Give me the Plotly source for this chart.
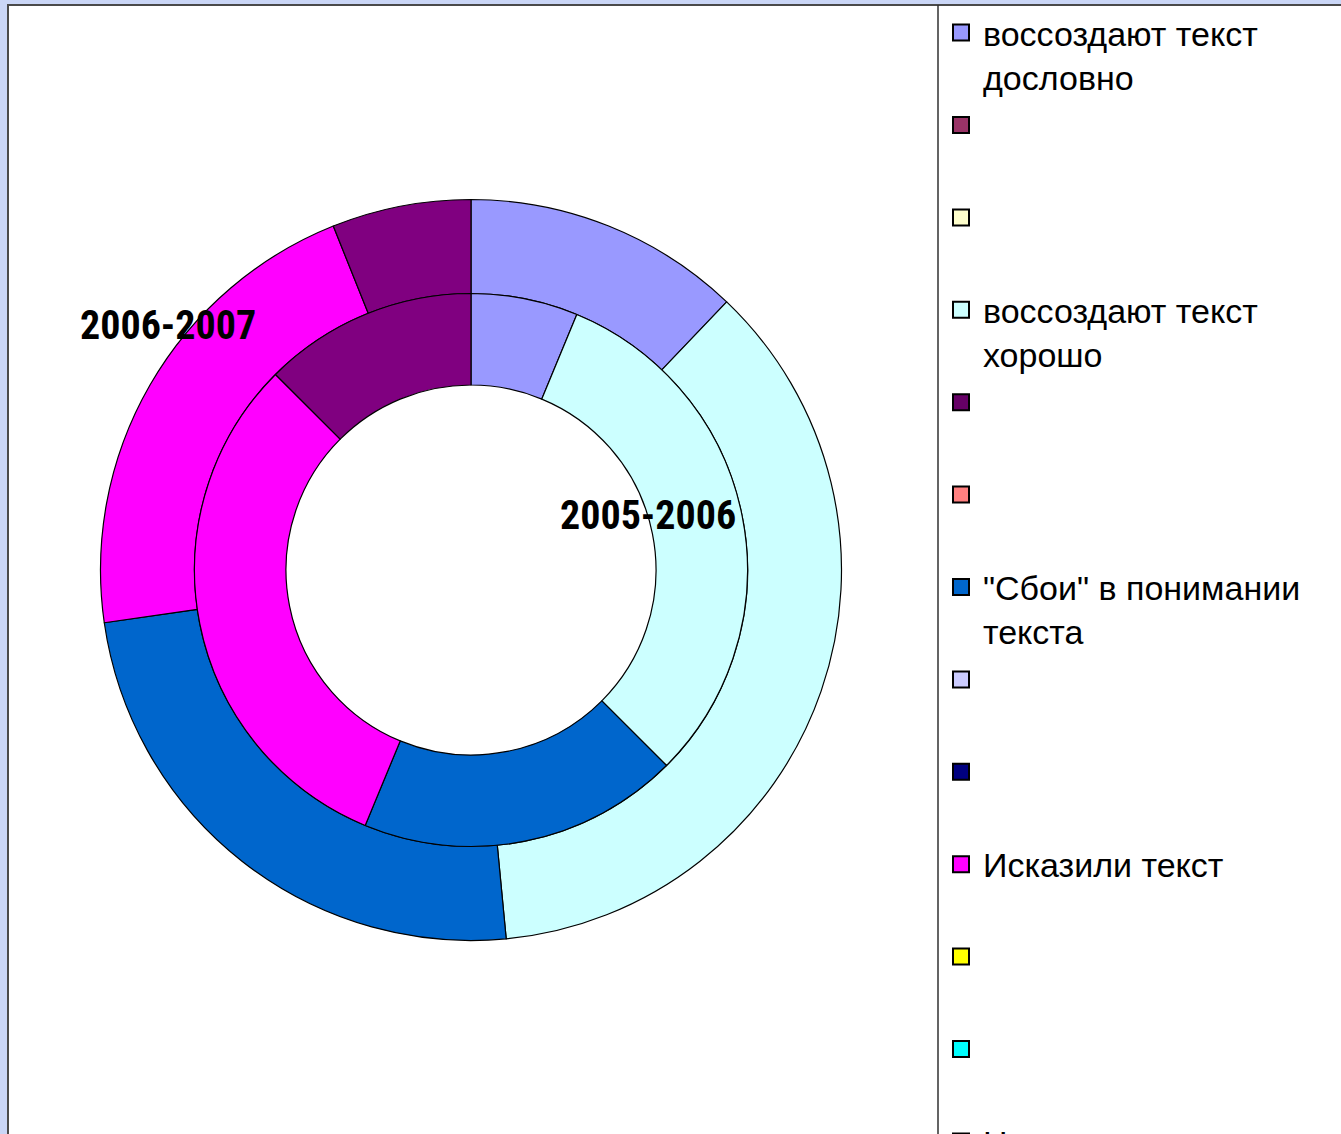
import plotly.graph_objects as go

# ---- data ----
categories = [
    "воссоздают текст дословно", "", "", "воссоздают текст хорошо", "", "",
    "\"Сбои\" в понимании текста", "", "", "Исказили текст", "", "", "Не поняли текст",
]
legend_labels = [
    "воссоздают текст<br>дословно", "\u00a0<br>\u00a0", "\u00a0<br>\u00a0",
    "воссоздают текст<br>хорошо", "\u00a0<br>\u00a0", "\u00a0<br>\u00a0",
    "\"Сбои\" в понимании<br>текста", "\u00a0<br>\u00a0", "\u00a0<br>\u00a0",
    "Исказили текст<br>\u00a0", "\u00a0<br>\u00a0", "\u00a0<br>\u00a0",
    "Не поняли текст<br>\u00a0",
]
palette = [
    "#9999FF", "#993366", "#FFFFCC", "#CCFFFF", "#660066", "#FF8080",
    "#0066CC", "#CCCCFF", "#000080", "#FF00FF", "#FFFF00", "#00FFFF", "#800080",
]
values_2006_2007 = [4, 0, 0, 12, 0, 0, 8, 0, 0, 7, 0, 0, 2]   # outer ring
values_2005_2006 = [2, 0, 0, 10, 0, 0, 6, 0, 0, 10, 0, 0, 4]  # inner ring
series_names = ["2006-2007", "2005-2006"]

W, H = 1341, 1134

def px_x(v):
    return v / W

def px_y(v):
    return 1 - v / H

cx, cy = 471, 570
r_out, r_mid, r_in = 370.5, 276.5, 185.0

fig = go.Figure()

def add_ring(vals, radius, hole, name):
    idx = [i for i, v in enumerate(vals) if v > 0]
    fig.add_trace(go.Pie(
        labels=[categories[i] for i in idx],
        values=[vals[i] for i in idx],
        marker=dict(colors=[palette[i] for i in idx], line=dict(color="black", width=1.2)),
        hole=hole,
        sort=False,
        direction="clockwise",
        rotation=0,
        textinfo="none",
        hoverinfo="label+value+percent",
        showlegend=False,
        name=name,
        domain=dict(x=[px_x(cx - radius), px_x(cx + radius)],
                    y=[px_y(cy + radius), px_y(cy - radius)]),
    ))

add_ring(values_2006_2007, r_out, r_mid / r_out, series_names[0])
add_ring(values_2005_2006, r_mid, r_in / r_mid, series_names[1])

# legend entries (one per category, Excel style)
for i, (lab, col) in enumerate(zip(legend_labels, palette)):
    fig.add_trace(go.Scatter(
        x=[None], y=[None], mode="markers", name=lab,
        legendgroup=f"g{i}",
        marker=dict(symbol="square", size=16, color=col, line=dict(color="black", width=2)),
        showlegend=True, hoverinfo="skip",
    ))

label_font = dict(
    family="Roboto Condensed, Open Sans Condensed, Liberation Sans Narrow, "
           "Noto Sans ExtraCondensed, DejaVu Sans Condensed, Arial Narrow, sans-serif",
    size=40, color="black", weight="bold")

fig.update_layout(
    width=W, height=H,
    margin=dict(l=0, r=0, t=0, b=0, autoexpand=False),
    paper_bgcolor="#CAD6F6",
    plot_bgcolor="rgba(0,0,0,0)",
    xaxis=dict(visible=False), yaxis=dict(visible=False),
    showlegend=True,
    legend=dict(
        x=px_x(939), xanchor="left", y=px_y(4), yanchor="top",
        bgcolor="rgba(0,0,0,0)", borderwidth=0,
        font=dict(family="Liberation Sans, Arial, sans-serif", size=34, color="black"),
        traceorder="grouped", tracegroupgap=1, valign="top", itemwidth=34,
    ),
    shapes=[
        dict(type="rect", xref="paper", yref="paper", x0=px_x(8), x1=1.02, y0=-0.02, y1=px_y(5),
             fillcolor="white", line=dict(color="#4A4A4A", width=2), layer="below"),
        dict(type="line", xref="paper", yref="paper", x0=px_x(938), x1=px_x(938), y0=-0.02, y1=px_y(5),
             line=dict(color="#303030", width=1.5), layer="above"),
    ],
    annotations=[
        dict(text=series_names[0], x=px_x(168), y=px_y(325), xref="paper", yref="paper",
             showarrow=False, font=label_font, xanchor="center", yanchor="middle"),
        dict(text=series_names[1], x=px_x(648), y=px_y(515), xref="paper", yref="paper",
             showarrow=False, font=label_font, xanchor="center", yanchor="middle"),
    ],
)

fig.write_html("out.html", config={"staticPlot": True},
               post_script="document.body.style.margin='0px';")
